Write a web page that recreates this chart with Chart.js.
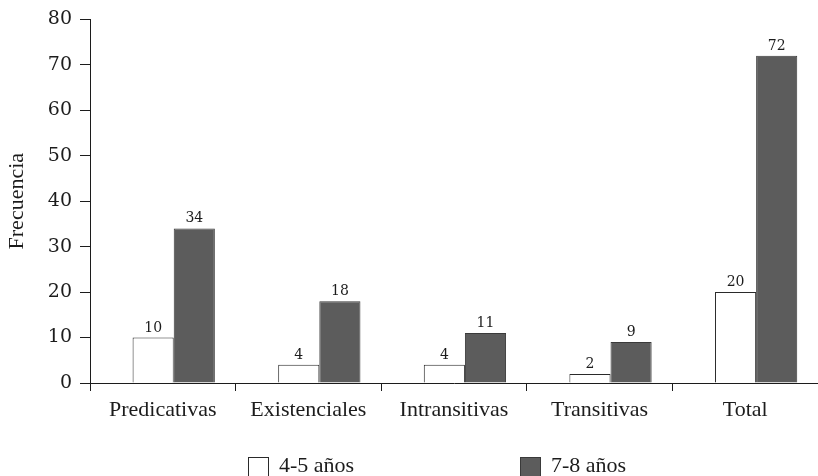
<!DOCTYPE html>
<html lang="es">
<head>
<meta charset="utf-8">
<title>Frecuencia por tipo de oración</title>
<script src="https://cdn.jsdelivr.net/npm/chart.js@4/dist/chart.umd.min.js"></script>
<style>
  html, body { margin: 0; padding: 0; background: #ffffff; }
  #chart { display: block; }
</style>
</head>
<body>
<canvas id="chart" width="818" height="476"></canvas>
<script>
// Tipos de oración (categorías del eje x)
const categories = ['Predicativas', 'Existenciales', 'Intransitivas', 'Transitivas', 'Total'];
// Frecuencias por grupo de edad
const edad45 = [10, 4, 4, 2, 20];
const edad78 = [34, 18, 11, 9, 72];
const seriesNames = ['4-5 años', '7-8 años'];
// Marcas del eje y
const yTicks = [0, 10, 20, 30, 40, 50, 60, 70, 80];

const INK = '#1c1c1c';
const DARK_FILL = '#5c5c5c';
const SERIF_TXT = "'Liberation Serif', 'Times New Roman', serif";
const SERIF_NUM = "'DejaVu Serif', serif";

// Bars sit on a hidden numeric axis so the pair can be nudged within each category slot
const toPoints = arr => arr.map((v, i) => ({ x: i, y: v }));
const barShift = 0.075;

// Numbers printed above every bar, taken from the dataset values
const valueLabels = {
  id: 'valueLabels',
  afterDatasetsDraw(chart) {
    const ctx = chart.ctx;
    ctx.save();
    ctx.font = '14px ' + SERIF_NUM;
    ctx.fillStyle = INK;
    ctx.textAlign = 'center';
    ctx.textBaseline = 'alphabetic';
    chart.data.datasets.forEach((ds, di) => {
      const meta = chart.getDatasetMeta(di);
      meta.data.forEach((el, i) => {
        ctx.fillText(String(ds.data[i].y), el.x, el.y - 6);
      });
    });
    ctx.restore();
  }
};

// Two-entry legend spread along the bottom edge
const spreadLegend = {
  id: 'spreadLegend',
  afterDraw(chart, args, opts) {
    const ctx = chart.ctx;
    ctx.save();
    ctx.font = '22px ' + SERIF_TXT;
    ctx.textBaseline = 'alphabetic';
    ctx.textAlign = 'left';
    chart.data.datasets.forEach((ds, di) => {
      const x = opts.xs[di];
      const y = opts.top;
      ctx.fillStyle = ds.backgroundColor;
      ctx.fillRect(x, y, opts.box, opts.box);
      ctx.lineWidth = 1;
      ctx.strokeStyle = ds.borderColor;
      ctx.strokeRect(x + 0.5, y + 0.5, opts.box - 1, opts.box - 1);
      ctx.fillStyle = INK;
      ctx.fillText(ds.label, x + opts.box + 10, opts.baseline);
    });
    ctx.restore();
  }
};

new Chart(document.getElementById('chart'), {
  type: 'bar',
  data: {
    labels: categories,
    datasets: [
      {
        label: seriesNames[0],
        data: toPoints(edad45),
        xAxisID: 'xb',
        backgroundColor: '#ffffff',
        borderColor: '#2a2a2a',
        borderWidth: 1
      },
      {
        label: seriesNames[1],
        data: toPoints(edad78),
        xAxisID: 'xb',
        backgroundColor: DARK_FILL,
        borderColor: '#3a3a3a',
        borderWidth: 1
      }
    ]
  },
  options: {
    responsive: false,
    animation: false,
    devicePixelRatio: 1,
    layout: { padding: { top: 17, right: 0, bottom: 0, left: 0 } },
    categoryPercentage: 0.565,
    barPercentage: 1,
    plugins: {
      legend: { display: false },
      tooltip: { enabled: false },
      spreadLegend: { xs: [248, 520], top: 457, box: 21, baseline: 472 }
    },
    scales: {
      xb: {
        type: 'linear',
        display: false,
        offset: false,
        min: -0.5 - barShift,
        max: categories.length - 0.5 - barShift,
        afterBuildTicks(scale) { scale.ticks = categories.map((c, i) => ({ value: i })); }
      },
      x: {
        type: 'category',
        position: 'bottom',
        labels: categories,
        offset: true,
        grid: {
          offset: true,
          drawOnChartArea: false,
          drawTicks: true,
          tickLength: 8,
          color: INK,
          lineWidth: 1
        },
        border: { display: true, color: INK, width: 1 },
        ticks: {
          color: INK,
          padding: 6,
          font: { family: SERIF_TXT, size: 22 },
          maxRotation: 0,
          autoSkip: false
        },
        afterFit(scale) { scale.height = 93; }
      },
      y: {
        type: 'linear',
        position: 'left',
        min: 0,
        max: 80,
        afterBuildTicks(scale) { scale.ticks = yTicks.map(v => ({ value: v })); },
        grid: {
          drawOnChartArea: false,
          drawTicks: true,
          tickLength: 10,
          color: INK,
          lineWidth: 1
        },
        border: { display: true, color: INK, width: 1 },
        ticks: {
          color: INK,
          padding: 8,
          font: { family: SERIF_NUM, size: 19 }
        },
        title: {
          display: true,
          text: 'Frecuencia',
          color: INK,
          font: { family: SERIF_TXT, size: 22 },
          padding: { top: 4, bottom: 0 }
        },
        afterFit(scale) { scale.width = 90; }
      }
    }
  },
  plugins: [valueLabels, spreadLegend]
});
</script>
</body>
</html>
